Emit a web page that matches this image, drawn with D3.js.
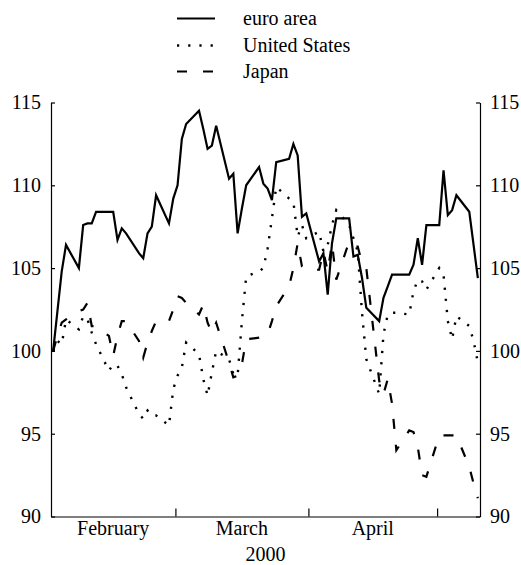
<!DOCTYPE html>
<html><head><meta charset="utf-8">
<script src="https://cdn.jsdelivr.net/npm/d3@7"></script>
<style>
body{margin:0;background:#fff}
svg text{font-family:"Liberation Serif","Times New Roman",serif;fill:#000}
</style>
</head><body>
<svg id="c" width="521" height="565"></svg>
<script>
const dates = [
 "2000-02-01","2000-02-02","2000-02-03","2000-02-04","2000-02-07","2000-02-08","2000-02-09","2000-02-10","2000-02-11",
 "2000-02-14","2000-02-15","2000-02-16","2000-02-17","2000-02-18","2000-02-21","2000-02-22","2000-02-23","2000-02-24","2000-02-25",
 "2000-02-28","2000-02-29",
 "2000-03-01","2000-03-02","2000-03-03","2000-03-06","2000-03-07","2000-03-08","2000-03-09","2000-03-10",
 "2000-03-13","2000-03-14","2000-03-15","2000-03-16","2000-03-17","2000-03-20","2000-03-21","2000-03-22","2000-03-23","2000-03-24",
 "2000-03-27","2000-03-28","2000-03-29","2000-03-30","2000-03-31",
 "2000-04-03","2000-04-04","2000-04-05","2000-04-06","2000-04-07","2000-04-10","2000-04-11","2000-04-12","2000-04-13","2000-04-14",
 "2000-04-17","2000-04-18","2000-04-19","2000-04-20","2000-04-21","2000-04-24","2000-04-25","2000-04-26","2000-04-27","2000-04-28",
 "2000-05-01","2000-05-02","2000-05-03","2000-05-04","2000-05-05","2000-05-08","2000-05-09","2000-05-10"
];
const euroArea = [
 100,102.4,104.8,106.4,105.0,107.6,107.7,107.7,108.4,108.4,108.4,106.7,107.4,107.1,105.9,105.6,107.1,107.5,109.4,107.7,109.2,
 110.0,112.8,113.7,114.5,113.4,112.2,112.4,113.6,110.4,110.7,107.1,108.6,110.0,111.1,110.1,109.8,109.1,111.4,111.6,112.5,111.8,108.1,108.3,
 105.4,105.9,103.4,106.5,108.0,108.0,105.7,105.8,104.4,102.6,101.8,103.2,103.9,104.6,104.6,104.6,105.2,106.8,105.2,107.6,
 107.6,110.9,108.2,108.5,109.4,108.4,106.4,104.4
];
const unitedStates = [
 100,100.6,100.4,101.9,101.3,102.1,101.9,101.1,100.4,98.8,99.2,99.1,98.6,97.8,96.2,95.9,96.4,96.1,96.1,95.5,97.7,
 98.5,99.0,100.5,99.8,98.3,97.3,98.7,100.0,99.5,98.6,98.5,101.8,104.5,104.8,105.0,106.2,108.0,109.9,109.2,109.0,106.9,107.6,106.8,
 107.2,106.0,106.4,107.6,108.5,107.6,106.8,106.0,102.3,99.5,97.4,101.0,102.2,102.3,102.3,102.2,103.6,104.3,104.2,103.7,
 105.0,104.6,101.8,100.7,102.1,101.5,100.6,99.3
];
const japan = [
 100,100.9,101.7,101.9,102.4,102.5,102.9,101.5,101.5,100.9,99.7,100.9,101.8,101.8,100.6,99.6,100.5,101.2,101.8,101.8,102.5,
 103.3,103.2,102.9,102.2,102.8,101.7,101.1,101.7,99.3,98.4,98.5,99.2,100.7,100.8,100.9,101.0,101.8,102.7,103.9,105.0,106.5,105.1,104.9,
 104.9,106.0,104.8,106.5,104.3,106.6,106.3,106.3,105.3,105.0,98.2,97.4,98.3,96.8,94.0,95.2,95.1,94.2,92.5,92.4,
 94.9,94.9,94.9,94.9,94.9,93.0,92.0,91.1
];
const seriesNames = ["euro area","United States","Japan"];
const yTicks = [90,95,100,105,110,115];
const monthStarts = ["2000-02-01","2000-03-01","2000-04-01","2000-05-01"];
const monthLabels = ["February","March","April"];
const xTitle = "2000";

const parse = d3.utcParse("%Y-%m-%d");
const L = 51, R = 480, T = 102.5, B = 516.5;
const FS = 20;
const FONT = '"Liberation Serif","Times New Roman",serif';
const x = d3.scaleUtc().domain([parse("2000-02-01"), parse("2000-05-11")]).range([L, R]);
const y = d3.scaleLinear().domain([90, 115]).range([B, T]);
const svg = d3.select("#c");

const styles = [
  {dash: null, w: 2.2},
  {dash: "2.2,9", w: 2.4},
  {dash: "10,16", w: 2.2}
];
const allSeries = [euroArea, unitedStates, japan];
const line = d3.line()
  .x(d => x(d3.utcHour.offset(parse(d.date), 12)))
  .y(d => y(d.v));

allSeries.forEach((vals, i) => {
  const data = dates.map((d, j) => ({date: d, v: vals[j]}));
  svg.append("path").datum(data)
    .attr("d", line)
    .attr("fill", "none").attr("stroke", "#000")
    .attr("stroke-width", styles[i].w)
    .attr("stroke-linejoin", "miter")
    .attr("stroke-dasharray", styles[i].dash);
});

function styleAxis(g){
  g.attr("font-size", null).attr("font-family", null);
  g.selectAll("path.domain").attr("stroke", "#000").attr("stroke-width", 1.2);
  g.selectAll(".tick line").attr("stroke", "#000").attr("stroke-width", 1.2);
  g.selectAll("text").style("font-size", FS + "px").style("font-family", FONT).attr("fill", "#000");
}

svg.append("g").attr("transform", `translate(${L},0)`)
  .call(d3.axisLeft(y).tickValues(yTicks).tickSize(-4).tickSizeOuter(0).tickPadding(10).tickFormat(d3.format("d")))
  .call(styleAxis);
svg.append("g").attr("transform", `translate(${R},0)`)
  .call(d3.axisRight(y).tickValues(yTicks).tickSize(-4).tickSizeOuter(0).tickPadding(10).tickFormat(d3.format("d")))
  .call(styleAxis);
svg.append("g").attr("transform", `translate(0,${B})`)
  .call(d3.axisBottom(x).tickValues(monthStarts.slice(1).map(parse)).tickSize(-8).tickSizeOuter(0).tickFormat(""))
  .call(styleAxis);

function txt(xp, yp, s, anchor){
  return svg.append("text").attr("x", xp).attr("y", yp)
    .attr("text-anchor", anchor)
    .style("font-size", FS + "px").style("font-family", FONT)
    .text(s);
}
monthLabels.forEach((m, i) => {
  const a = x(parse(monthStarts[i])), b = x(parse(monthStarts[i + 1]));
  txt((a + b) / 2, 535, m, "middle");
});
txt((L + R) / 2, 561, xTitle, "middle");

const legY = [25, 52, 78];
seriesNames.forEach((n, i) => {
  svg.append("line").attr("x1", 177).attr("x2", 215)
    .attr("y1", legY[i] - 6.5).attr("y2", legY[i] - 6.5)
    .attr("stroke", "#000").attr("stroke-width", styles[i].w)
    .attr("stroke-dasharray", styles[i].dash);
  txt(243, legY[i], n, "start");
});
</script>
</body></html>
